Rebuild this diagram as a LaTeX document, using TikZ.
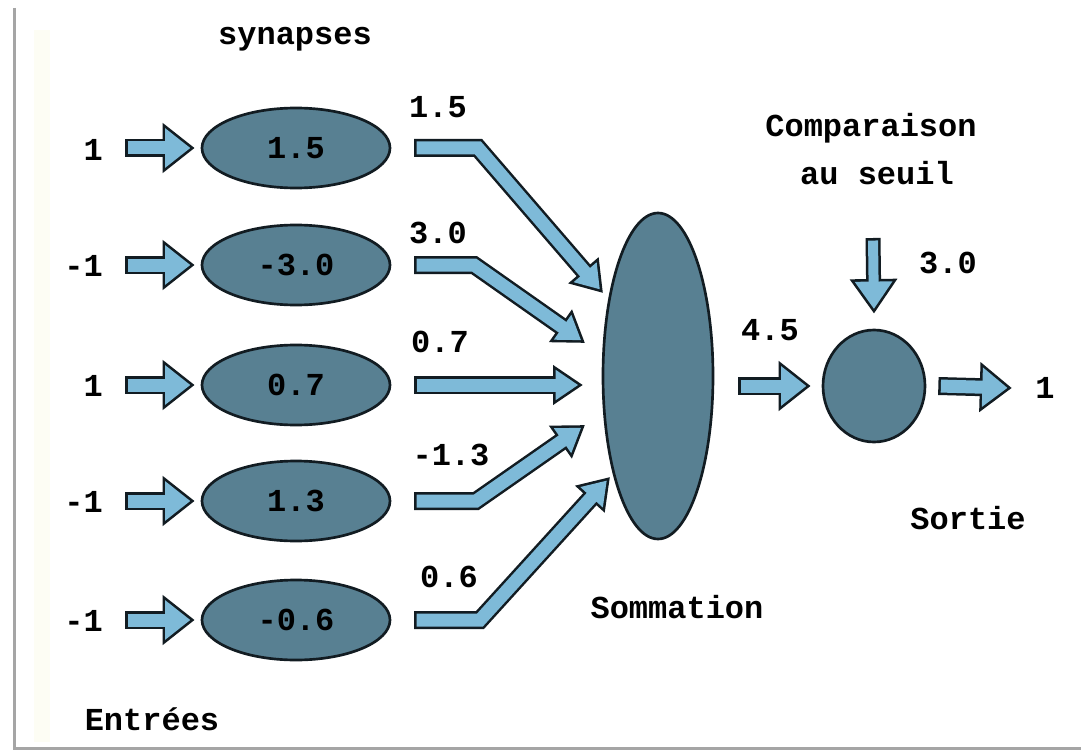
\documentclass[tikz,border=0pt]{standalone}
\usepackage{fontspec}
\newfontfamily\lmono{Liberation Mono}
\usetikzlibrary{shapes.geometric,arrows.meta}
\definecolor{ellfill}{RGB}{88,128,146}
\definecolor{arrfill}{RGB}{126,186,216}
\definecolor{edgec}{RGB}{18,28,34}
\definecolor{framec}{RGB}{165,165,165}
\definecolor{stripc}{RGB}{253,253,244}
\begin{document}
\begin{tikzpicture}[x=0.75pt,y=-0.75pt,
  txt/.style={font=\lmono\bfseries\fontsize{24}{28}\selectfont, text=black, inner sep=0pt},
  syn/.style={ellipse, draw=edgec, fill=ellfill, line width=2pt, inner sep=0pt,
    minimum width=141pt, minimum height=60pt, font=\lmono\bfseries\fontsize{24}{28}\selectfont},
  big/.style={ellipse, draw=edgec, fill=ellfill, line width=2pt, inner sep=0pt},
  blkbig/.style={draw=edgec, line width=13.5pt, line join=miter,
    -{Triangle[length=24pt,width=36pt]},
    postaction={draw=arrfill, line width=9.75pt, -{Triangle[length=18.9pt,width=28.35pt]},
      shorten >=3.2pt, shorten <=1.9pt}},
  blksmall/.style={draw=edgec, line width=13.5pt, line join=miter,
    -{Triangle[length=22.5pt,width=28.5pt]},
    postaction={draw=arrfill, line width=9.75pt, -{Triangle[length=17pt,width=21.6pt]},
      shorten >=3.56pt, shorten <=1.9pt}},
  blkdown/.style={draw=edgec, line width=11.25pt, line join=miter,
    -{Triangle[length=26pt,width=34pt]},
    postaction={draw=arrfill, line width=7.5pt, -{Triangle[length=20.6pt,width=26.9pt]},
      shorten >=3.47pt, shorten <=1.9pt}}
]
\useasboundingbox (0,0) rectangle (1081,756);
\fill[white] (0,0) rectangle (1081,756);
\fill[stripc] (34,30) rectangle (50,742);
\draw[framec, line width=2.25pt] (14,8) -- (14,748) -- (1081,748);

% titles
\node[txt] (synlbl) at (295,39) {synapses};
\node[txt] (cmp) at (871,128) {Comparaison};
\node[txt] (seuil) at (877,173) {au seuil};
\node[txt] (somm) at (677,607) {Sommation};
\node[txt] (sortie) at (968,518) {Sortie};
\node[txt] (entr) at (152,719) {Entrées};

% inputs
\node[txt, anchor=east] (in1) at (103,150) {1};
\node[txt, anchor=east] (in2) at (103,266) {-1};
\node[txt, anchor=east] (in3) at (103,386) {1};
\node[txt, anchor=east] (in4) at (103,502) {-1};
\node[txt, anchor=east] (in5) at (103,621) {-1};

% synapses
\node[syn] (s1) at (296,148) {1.5};
\node[syn] (s2) at (296,265) {-3.0};
\node[syn] (s3) at (296,385) {0.7};
\node[syn] (s4) at (296,501) {1.3};
\node[syn] (s5) at (296,620) {-0.6};

% summation and threshold
\node[big, minimum width=82.5pt, minimum height=244.5pt] (sum) at (658,376) {};
\node[big, minimum width=76.5pt, minimum height=84pt] (thr) at (874,386) {};
\node[txt] (out) at (1045,388) {1};

% weight labels
\node[txt] (w1) at (438,107) {1.5};
\node[txt] (w2) at (438,233) {3.0};
\node[txt] (w3) at (440,342) {0.7};
\node[txt] (w4) at (451,455) {-1.3};
\node[txt] (w5) at (449,577) {0.6};
\node[txt] (wsum) at (770,330) {4.5};
\node[txt] (wthr) at (948,263) {3.0};

% input arrows
\foreach \i in {1,...,5}{
  \coordinate (a\i) at (in\i.east |- s\i.west);
  \draw[blkbig] ([xshift=16.5pt]a\i) -- ([xshift=-4.5pt]s\i.west);
}

% synapse outputs
\coordinate (t1) at (603,293);
\coordinate (t2) at (585,343);
\coordinate (t3) at (583,385);
\coordinate (t4) at (585,425);
\coordinate (t5) at (610,477);
\draw[blksmall] ([xshift=17pt]s1.east) -- ++(64,0) -- (t1);
\draw[blksmall] ([xshift=17pt]s2.east) -- ++(60,0) -- (t2);
\draw[blksmall] ([xshift=17pt]s3.east) -- (t3);
\draw[blksmall] ([xshift=17pt]s4.east) -- ++(62,0) -- (t4);
\draw[blksmall] ([xshift=17pt]s5.east) -- ++(66,0) -- (t5);

% sum -> threshold
\coordinate (a45) at (sum.east |- thr.west);
\draw[blkbig] ([xshift=18pt]a45) -- ([xshift=-8.25pt]thr.west);

% threshold input
\coordinate (thtop) at (873,238);
\draw[blkdown] (thtop) -- ([yshift=11.25pt]thr.north);

% output
\draw[blkbig] ([xshift=9pt]thr.east) -- ([xshift=-17.5pt]out.west);
\end{tikzpicture}
\end{document}
